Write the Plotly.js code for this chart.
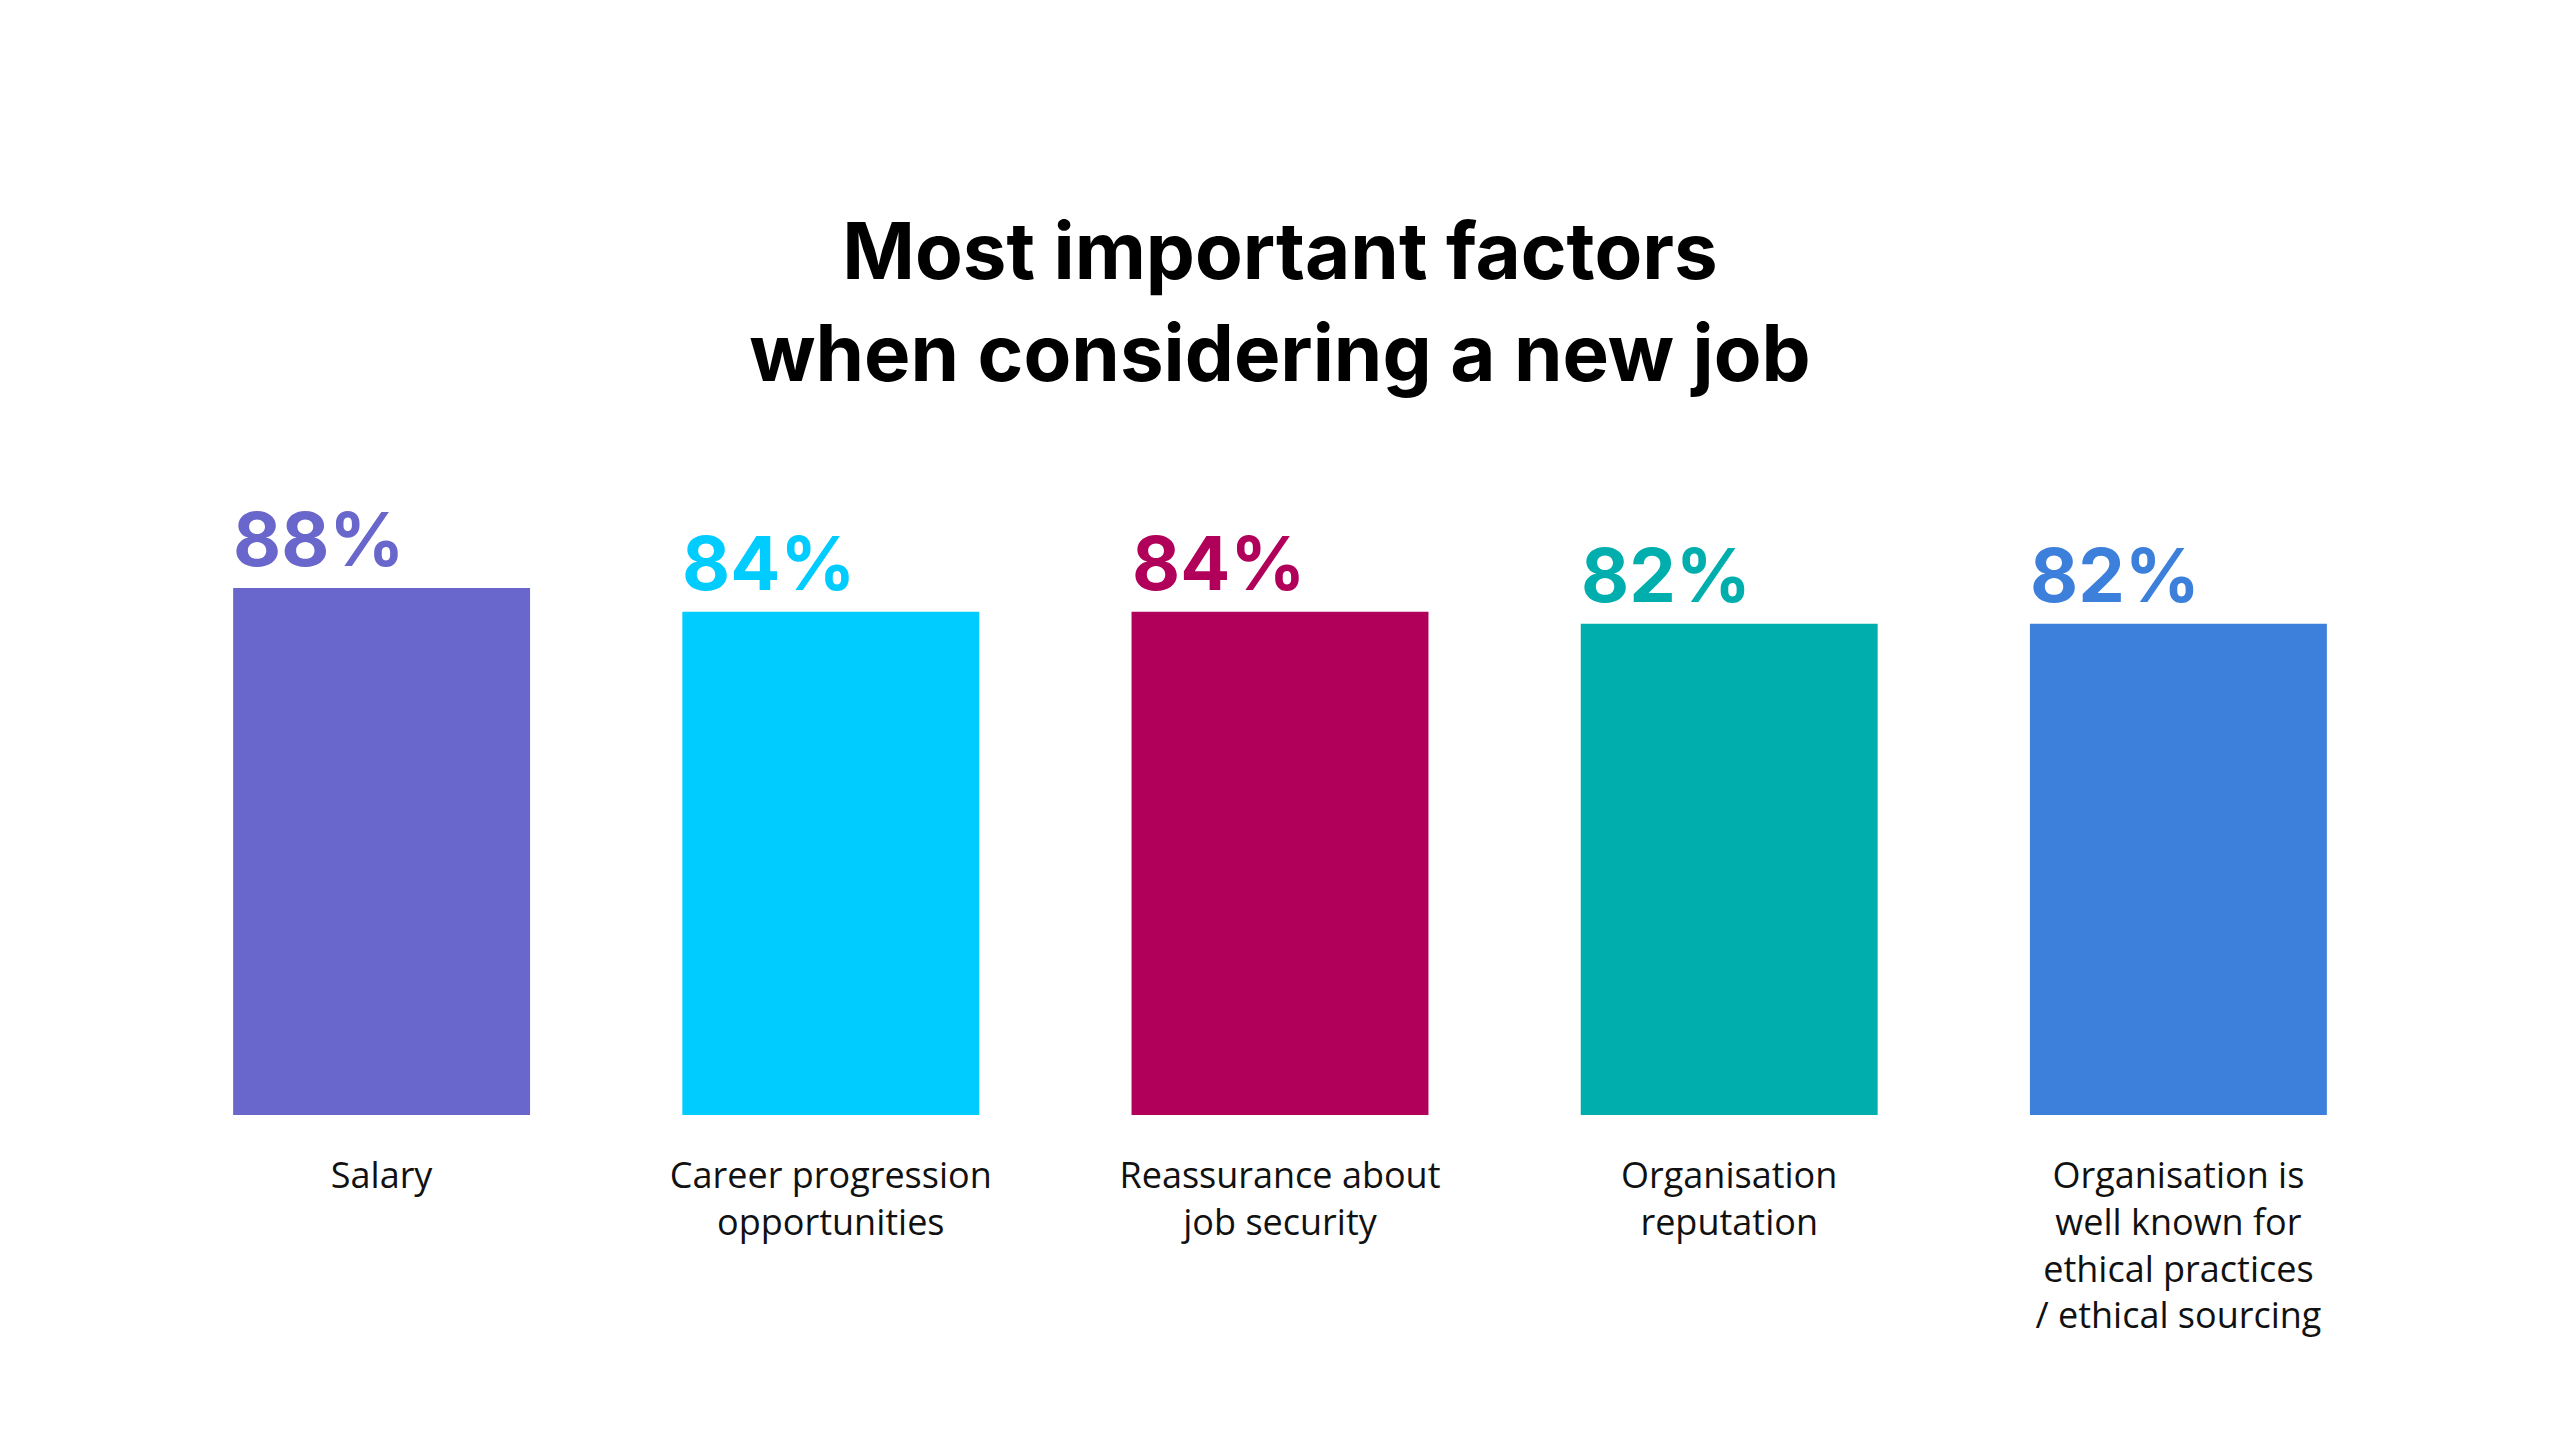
<!DOCTYPE html>
<html>
<head>
<meta charset="utf-8">
<script src="https://cdn.plot.ly/plotly-3.0.1.min.js"></script>
<style>
  html, body { margin: 0; padding: 0; background: #fff; }
  #graph { width: 2560px; height: 1440px; }
</style>
</head>
<body>
<div id="graph"></div>
<script>
// Survey: share naming each factor as important
var categories = ['Salary', 'Career progression opportunities', 'Reassurance about job security',
    'Organisation reputation', 'Organisation is well known for ethical practices / ethical sourcing'];
var tickLabels = ['Salary', 'Career progression<br>opportunities', 'Reassurance about<br>job security',
    'Organisation<br>reputation', 'Organisation is<br>well known for<br>ethical practices<br>/ ethical sourcing'];
var values = [88, 84, 84, 82, 82];
var barColors = ['#6967cb', '#00ccff', '#b1005a', '#00afad', '#3c80dc'];

var bargap = 0.339;

var trace = {
    x: categories,
    y: values,
    type: 'bar',
    marker: {color: barColors},
    hoverinfo: 'none'
};

// value labels sit above each bar, flush with the bar's left edge
var annotations = values.map(function(v, i) {
    return {
        x: i - (1 - bargap) / 2,
        y: v,
        xref: 'x',
        yref: 'y',
        text: '<b>' + v + '%</b>',
        showarrow: false,
        xanchor: 'left',
        yanchor: 'bottom',
        xshift: -2,
        yshift: 2,
        font: {family: 'Inter, sans-serif', size: 74, color: barColors[i]}
    };
});

var layout = {
    width: 2560,
    height: 1440,
    paper_bgcolor: '#fff',
    plot_bgcolor: '#fff',
    margin: {l: 157, r: 157, t: 516, b: 325},
    bargap: bargap,
    showlegend: false,
    title: {
        text: '<b>Most important factors<br>when considering a new job</b>',
        font: {family: 'Inter, sans-serif', size: 78, color: '#000'},
        x: 0.5,
        xanchor: 'center',
        yref: 'container',
        y: 0.806,
        yanchor: 'top'
    },
    xaxis: {
        type: 'category',
        tickvals: categories,
        ticktext: tickLabels,
        showline: false,
        showgrid: false,
        zeroline: false,
        ticks: '',
        ticklabelstandoff: 36,
        tickfont: {family: 'Open Sans, sans-serif', size: 36, color: '#111'}
    },
    yaxis: {
        range: [0, 100],
        visible: false,
        showgrid: false,
        zeroline: false
    },
    annotations: annotations
};

Plotly.newPlot('graph', [trace], layout, {displayModeBar: false, staticPlot: true});
</script>
</body>
</html>
